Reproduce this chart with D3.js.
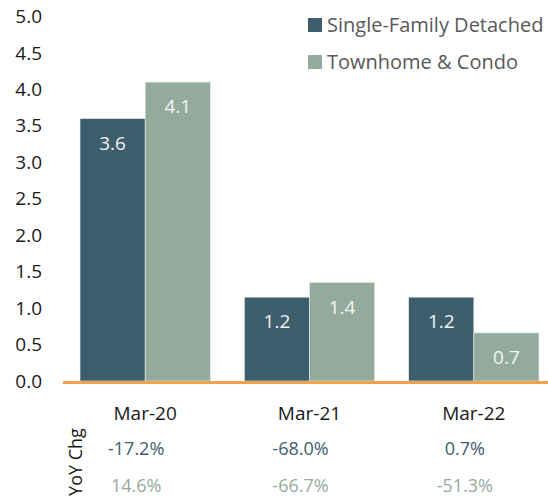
<!DOCTYPE html>
<html>
<head>
<meta charset="utf-8">
<script src="https://cdn.jsdelivr.net/npm/d3@7"></script>
<style>
  body { margin: 0; background: #fff; }
  text { font-family: "Open Sans", sans-serif; }
</style>
</head>
<body>
<div id="chart"></div>
<script>
const categories = ["Mar-20", "Mar-21", "Mar-22"];
const seriesNames = ["Single-Family Detached", "Townhome & Condo"];
const singleFamily = [3.6, 1.15, 1.15];
const townhome = [4.1, 1.35, 0.66];
const sfLabels = ["3.6", "1.2", "1.2"];
const thLabels = ["4.1", "1.4", "0.7"];
const sfYoY = ["-17.2%", "-68.0%", "0.7%"];
const thYoY = ["14.6%", "-66.7%", "-51.3%"];
const yTicks = [0, 0.5, 1, 1.5, 2, 2.5, 3, 3.5, 4, 4.5, 5];

const COLORS = ["#3d5e6d", "#93ab9c"];

const svg = d3.select("#chart").append("svg")
  .attr("width", 548)
  .attr("height", 501)

const x = d3.scaleBand()
  .domain(categories)
  .range([63, 556])
  .paddingInner(0.207)
  .paddingOuter(0.1035)

const xSub = d3.scaleBand()
  .domain([0, 1])
  .range([0, x.bandwidth()])

const y = d3.scaleLinear()
  .domain([0, 5])
  .range([381, 16.5])

// y axis, labels only
const yAxis = svg.append("g")
  .attr("transform", "translate(45,0)")
  .call(d3.axisLeft(y).tickValues(yTicks).tickFormat(d3.format(".1f")).tickSize(0).tickPadding(3))
yAxis.select(".domain").remove()
yAxis.selectAll("text")
  .attr("font-family", "Open Sans")
  .attr("font-size", 19)
  .attr("fill", "#1a1a1a")

const series = [singleFamily, townhome];
const labels = [sfLabels, thLabels];

series.forEach((vals, s) => {
  svg.append("g").selectAll("rect")
    .data(vals)
    .join("rect")
    .attr("x", (d, i) => x(categories[i]) + xSub(s))
    .attr("y", d => y(d))
    .attr("width", xSub.bandwidth())
    .attr("height", d => y(0) - y(d))
    .attr("fill", COLORS[s])
    .attr("stroke", "#e8eeea")
    .attr("stroke-width", 0.6)

  svg.append("g").selectAll("text")
    .data(vals)
    .join("text")
    .attr("x", (d, i) => x(categories[i]) + xSub(s) + xSub.bandwidth() / 2)
    .attr("y", d => y(d) + 31)
    .attr("text-anchor", "middle")
    .attr("font-size", 19)
    .attr("fill", "#f4f4f4")
    .text((d, i) => labels[s][i])
})

// orange baseline
svg.append("line")
  .attr("x1", 63)
  .attr("x2", 548)
  .attr("y1", y(0) + 1.5)
  .attr("y2", y(0) + 1.5)
  .attr("stroke", "#f0a24d")
  .attr("stroke-width", 3)

// category labels
svg.append("g").selectAll("text")
  .data(categories)
  .join("text")
  .attr("x", d => x(d) + x.bandwidth() / 2)
  .attr("y", 420)
  .attr("text-anchor", "middle")
  .attr("font-size", 19)
  .attr("fill", "#1a1a1a")
  .text(d => d)

// YoY rows
const yoyRows = [sfYoY, thYoY];
yoyRows.forEach((row, s) => {
  svg.append("g").selectAll("text")
    .data(row)
    .join("text")
    .attr("x", (d, i) => x(categories[i]) + x.bandwidth() / 2 - 9)
    .attr("y", 455 + s * 36.5)
    .attr("text-anchor", "middle")
    .attr("font-size", 18)
    .attr("fill", COLORS[s])
    .text(d => d)
})

svg.append("text")
  .attr("transform", "translate(82,462) rotate(-90)")
  .attr("text-anchor", "middle")
  .attr("font-size", 18)
  .attr("fill", "#1a1a1a")
  .text("YoY Chg")

// legend
const legend = svg.append("g").selectAll("g")
  .data(seriesNames)
  .join("g")
  .attr("transform", (d, i) => `translate(308, ${18 + i * 37})`)
legend.append("rect")
  .attr("width", 14)
  .attr("height", 14)
  .attr("fill", (d, i) => COLORS[i])
legend.append("text")
  .attr("x", 19)
  .attr("y", 14)
  .attr("font-size", 20)
  .attr("fill", "#595959")
  .text(d => d)
</script>
</body>
</html>
